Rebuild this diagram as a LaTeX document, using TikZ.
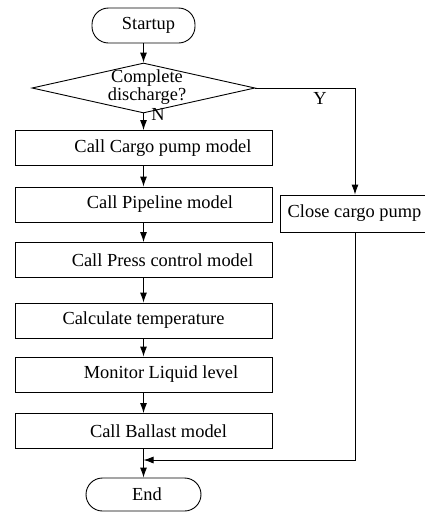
\documentclass[tikz,border=0pt]{standalone}
\usepackage{fontspec}
\setmainfont{Liberation Serif}
\usetikzlibrary{shapes.geometric,arrows.meta}
\begin{document}
\begin{tikzpicture}[x=1pt,y=-1pt,
  every node/.style={font=\fontsize{18.4}{18.5}\selectfont, text=black},
  procbox/.style={draw, line width=0.9pt, rectangle, minimum width=257pt, minimum height=35pt, inner sep=0pt},
  termbox/.style={draw, line width=0.9pt, rectangle, rounded corners=16.5pt, inner sep=0pt},
  decbox/.style={draw, line width=0.9pt, diamond, minimum width=223pt, minimum height=50pt, inner sep=0pt},
  lbl/.style={inner sep=0pt},
  arr/.style={line width=0.9pt, -{Latex[length=10pt,width=7pt]}},
  ln/.style={line width=0.9pt}]
\clip (0,0) rectangle (425,512);
\fill[white] (0,0) rectangle (425,512);
\node[termbox, minimum width=103pt, minimum height=35pt] (start) at (143.5,25.5) {\hspace*{10pt}Startup};
\node[decbox] (dec) at (143.5,88) {};
\node[align=center, inner sep=0pt] (dect) at (147,87) {Complete\\discharge?};
\node[procbox] (b1) at (143.5,148) {\hspace*{39pt}Call Cargo pump model};
\node[procbox] (b2) at (143.5,204.5) {\hspace*{33pt}Call Pipeline model};
\node[procbox] (b3) at (143.5,260) {\hspace*{38pt}Call Press control model};
\node[procbox] (b4) at (143.5,320.5) {Calculate temperature};
\node[procbox] (b5) at (143.5,374.5) {\hspace*{35pt}Monitor Liquid level};
\node[procbox] (b6) at (143.5,431) {\hspace*{30pt}Call Ballast model};
\node[termbox, minimum width=115pt, minimum height=33pt] (end) at (143.5,494.5) {\hspace*{7pt}End};
\node[draw, line width=0.9pt, rectangle, minimum width=150pt, minimum height=37pt, inner sep=0pt] (close) at (355,213.5) {\hspace*{-1pt}Close cargo pump};
\node[lbl] (nlbl) at (158,114) {N};
\node[lbl] (ylbl) at (320,98) {Y};
\coordinate (merge) at (143.5,460);
\draw[arr] (start) -- (dec);
\draw[arr] (dec.south) -- (b1.north);
\draw[arr] (b1) -- (b2);
\draw[arr] (b2) -- (b3);
\draw[arr] (b3) -- (b4);
\draw[arr] (b4) -- (b5);
\draw[arr] (b5) -- (b6);
\draw[arr] (b6) -- (end);
\draw[arr] (dec.east) -| (close.north);
\draw[arr] (close.south) |- (merge);
\end{tikzpicture}
\end{document}
